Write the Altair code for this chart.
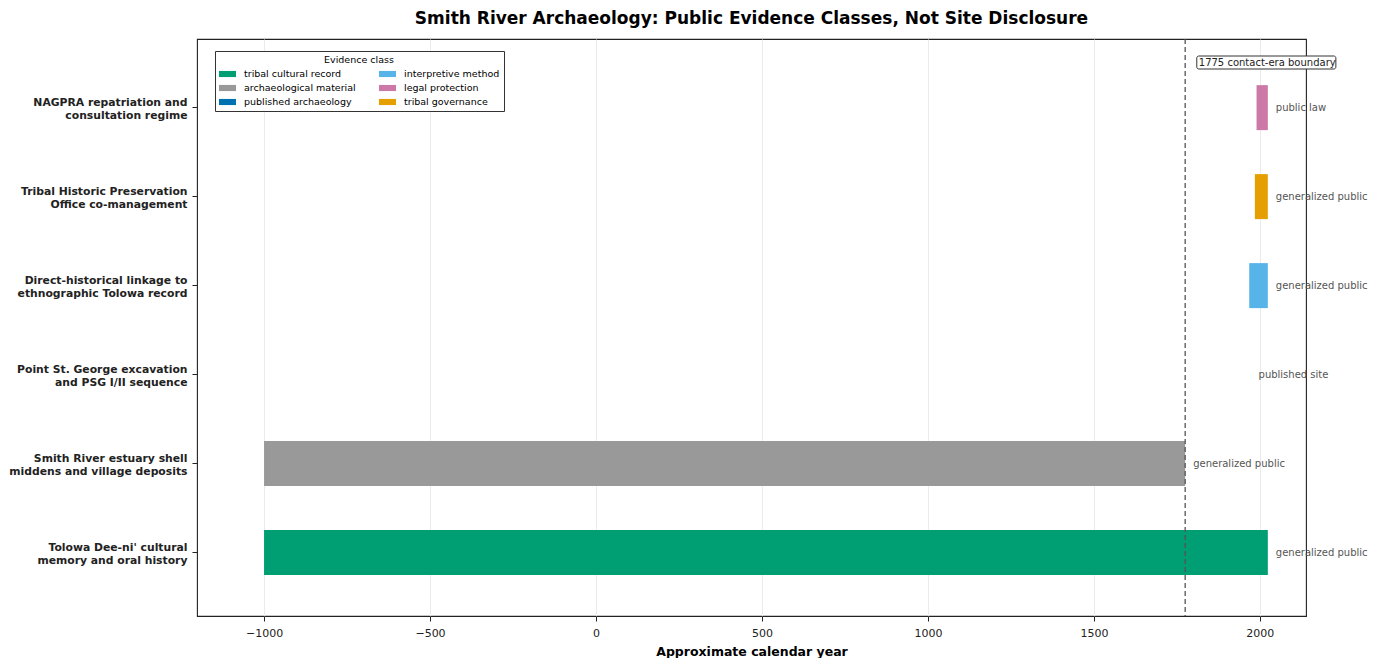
import altair as alt
import pandas as pd

labels = [
    "Tolowa Dee-ni' cultural\nmemory and oral history",
    "Smith River estuary shell\nmiddens and village deposits",
    "Point St. George excavation\nand PSG I/II sequence",
    "Direct-historical linkage to\nethnographic Tolowa record",
    "Tribal Historic Preservation\nOffice co-management",
    "NAGPRA repatriation and\nconsultation regime",
]
classes = [
    "tribal cultural record",
    "archaeological material",
    "published archaeology",
    "interpretive method",
    "tribal governance",
    "legal protection",
]
starts = [-1000, -1000, 1972, 1968, 1985, 1990]
ends = [2024, 1775, 1972, 2024, 2024, 2024]
notes = ["generalized public", "generalized public", "published site",
         "generalized public", "generalized public", "public law"]

legend_order = ["tribal cultural record", "archaeological material",
                "published archaeology", "interpretive method",
                "legal protection", "tribal governance"]
legend_colors = ["#009E73", "#999999", "#0072B2", "#56B4E9", "#CC79A7", "#E69F00"]

contact_year = 1775
contact_label = "1775 contact-era boundary"

df = pd.DataFrame({"label": labels, "cls": classes, "start": starts,
                   "end": ends, "note": notes})
df["note_x"] = df["end"] + 24

xscale = alt.Scale(domain=[-1202, 2139], nice=False, zero=False)
yenc = alt.Y("label:N", sort=labels[::-1],
             scale=alt.Scale(paddingInner=0.494, paddingOuter=0.489, align=0.53),
             axis=alt.Axis(title=None, labelExpr="split(datum.label, '\\n')",
                           labelFontWeight="bold", labelFontSize=10.8,
                           labelColor="#222", tickSize=5, tickColor="#222",
                           domain=False, grid=False, labelPadding=5,
                           labelOffset=-4.5,
                           labelLimit=300, labelLineHeight=13))

xaxis = alt.Axis(title="Approximate calendar year", titleFontWeight="bold",
                 titleFontSize=12.5, titleColor="#000", titlePadding=7,
                 values=[-1000, -500, 0, 500, 1000, 1500, 2000],
                 labelFontSize=11, labelColor="#222", tickSize=5,
                 tickColor="#222", domain=False, grid=True,
                 gridColor="#ebebeb", labelPadding=6, format="d",
                 labelExpr="replace(datum.label, '-', '\u2212')")

base = alt.Chart(df)

bars = base.mark_bar(size=45).encode(
    x=alt.X("start:Q", scale=xscale, axis=xaxis),
    x2="end:Q",
    y=yenc,
    color=alt.Color("cls:N", scale=alt.Scale(domain=legend_order, range=legend_colors),
                    legend=alt.Legend(title="Evidence class", orient="none",
                                      legendX=18, legendY=12, columns=2,
                                      symbolType="M-1,-0.36H1V0.36H-1Z",
                                      symbolSize=289, symbolStrokeWidth=0,
                                      labelFontSize=9.5, titleFontSize=9.5,
                                      titleFontWeight="normal", titleAnchor="middle",
                                      strokeColor="#333", fillColor="white",
                                      padding=4, rowPadding=1, columnPadding=23,
                                      labelOffset=8,
                                      labelColor="#000", titleColor="#000",
                                      symbolOpacity=1, titlePadding=1,
                                      cornerRadius=0)),
)

texts = base.mark_text(align="left", baseline="middle", fontSize=10,
                       color="#555").encode(
    x=alt.X("note_x:Q", scale=xscale),
    y=alt.Y("label:N", sort=labels[::-1]),
    text="note:N",
)

rule_df = pd.DataFrame({"x": [contact_year]})
rule = alt.Chart(rule_df).mark_rule(color="#555", strokeDash=[5, 3],
                                    strokeWidth=1.3).encode(
    x=alt.X("x:Q", scale=xscale))

ann_df = pd.DataFrame({"x": [contact_year + 35], "x2": [contact_year + 454],
                       "tx": [contact_year + 41], "t": [contact_label]})
ann_box = alt.Chart(ann_df).mark_rect(fill="white", stroke="#333",
                                      strokeWidth=1, cornerRadius=2).encode(
    x=alt.X("x:Q", scale=xscale), x2="x2:Q",
    y=alt.value(17), y2=alt.value(30))
ann_text = alt.Chart(ann_df).mark_text(align="left", baseline="middle",
                                       fontSize=10, color="#222").encode(
    x=alt.X("tx:Q", scale=xscale), y=alt.value(23.5), text="t:N")

chart = alt.layer(bars, rule, texts, ann_box, ann_text).properties(
    width=1109, height=577,
    title=alt.TitleParams("Smith River Archaeology: Public Evidence Classes, Not Site Disclosure",
                          fontSize=17, fontWeight="bold", color="#000",
                          anchor="middle", offset=10),
    padding={"left": 0, "top": 2, "right": 0, "bottom": 0},
).configure(font="DejaVu Sans").configure_view(stroke="#222", strokeWidth=1.1)

chart.save("out.html", embed_options={"renderer": "svg", "actions": False})
